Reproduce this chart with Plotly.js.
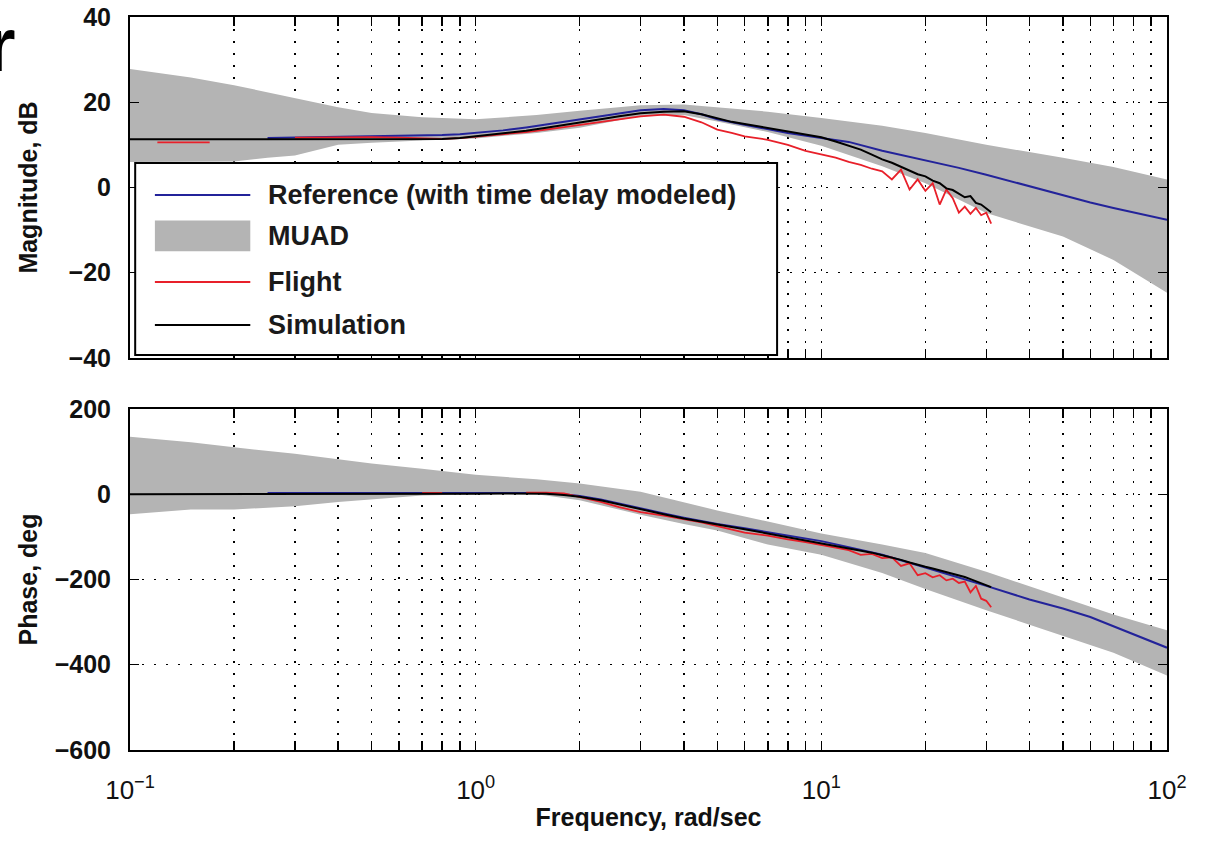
<!DOCTYPE html>
<html><head><meta charset="utf-8">
<script src="https://cdn.plot.ly/plotly-3.0.1.min.js"></script>
<style>html,body{margin:0;padding:0;background:#fff}#chart{width:1209px;height:843px}</style>
</head><body><div id="chart"></div>
<script>
// ---------- data ----------
const freqSim = [0.1, 0.12, 0.15, 0.17, 0.2, 0.25, 0.3, 0.4, 0.5, 0.6, 0.7, 0.8, 0.9, 1.0, 1.2, 1.4, 1.6, 1.8, 2.0, 2.3, 2.6, 3.0, 3.5, 4.0, 4.5, 5.0, 5.5, 6.0, 7.0, 8.0, 9, 10, 11, 12, 13, 14, 15, 16, 17, 18, 19, 20, 21, 22, 23, 24, 25, 26, 27, 28, 29, 30, 31];
const magSim = [11.3, 11.3, 11.3, 11.3, 11.3, 11.3, 11.3, 11.3, 11.3, 11.3, 11.3, 11.4, 11.6, 12.0, 12.6, 13.3, 14.0, 14.6, 15.2, 16.0, 16.7, 17.4, 17.8, 17.9, 17.2, 16.2, 15.4, 14.9, 14.0, 13.2, 12.5, 11.8, 10.8, 9.8, 8.9, 7.7, 6.6, 5.8, 4.8, 4.0, 3.1, 2.6, 1.6, 1.0, -0.2, -0.6, -1.4, -2.3, -2.0, -3.6, -4.0, -5.0, -5.8];
const magFlight = [null, 10.6, 10.6, 10.6, null, null, 11.7, 11.8, 11.8, 11.7, 11.5, 11.4, 11.6, 11.9, 12.4, 13.0, 13.6, 14.2, 14.7, 15.5, 16.1, 16.7, 17.1, 16.6, 15.3, 13.6, 12.8, 12.0, 11.2, 10.0, 8.6, 7.8, 7.0, 6.0, 5.3, 4.4, 3.8, 1.9, 4.2, -0.5, 1.9, -0.8, 1.0, -4.0, -0.5, -2.5, -5.9, -4.5, -6.2, -4.8, -6.5, -5.9, -8.5];
const phaseSim = [0, 0, 0, 0, 0, 0, 0, 0, 0, 0, 0, 0, 0, 1, 2, 2, 1, -2, -6, -14, -24, -35, -47, -57, -65, -72, -77, -82, -92, -101, -108, -114, -120, -126, -132, -137, -143, -148, -154, -160, -166, -170, -174, -178, -182, -186, -190, -194, -199, -204, -209, -213, -218];
const phaseFlight = [null, null, null, null, null, null, null, null, null, null, 3, 3, null, null, null, 4, 4, 2, -6, -18, -30, -42, -50, -58, -66, -75, -83, -90, -97, -106, -112, -118, -125, -131, -142, -140, -150, -148, -168, -162, -190, -185, -195, -190, -202, -198, -208, -205, -230, -215, -245, -250, -265];

const freqRef = [0.25, 0.3, 0.4, 0.5, 0.6, 0.7, 0.8, 0.9, 1.0, 1.2, 1.4, 1.6, 1.8, 2.0, 2.3, 2.6, 3.0, 3.5, 4.0, 4.5, 5, 6, 7, 8, 10, 12, 15, 20, 25, 30, 40, 50, 60, 70, 80, 100];
const magRef = [11.6, 11.7, 11.8, 11.9, 12.0, 12.1, 12.3, 12.5, 12.8, 13.4, 14.1, 14.8, 15.4, 16.0, 16.8, 17.5, 18.1, 18.4, 18.1, 17.2, 16.0, 14.7, 13.6, 12.8, 11.6, 10.7, 8.6, 6.4, 4.6, 3.0, 0.3, -1.9, -3.5, -4.8, -5.9, -7.6];
const phaseRef = [3, 3, 3, 3, 3, 3, 3, 3, 3, 4, 4, 3, 0, -4, -12, -22, -33, -45, -55, -63, -70, -80, -89, -97, -110, -124, -142, -172, -195, -215, -247, -268, -288, -310, -328, -360];

const freqBand = [0.1, 0.15, 0.2, 0.25, 0.3, 0.4, 0.5, 0.7, 1.0, 1.5, 2.0, 3.0, 4.0, 5.0, 7.0, 10, 15, 20, 30, 50, 70, 100];
const magBandUpper = [27.8, 25.8, 24.0, 22.3, 21.0, 18.8, 17.5, 16.5, 16.0, 17.0, 18.0, 19.3, 19.5, 18.8, 17.8, 16.3, 14.5, 12.8, 10.0, 7.0, 4.8, 1.9];
const magBandLower = [6.0, 6.0, 6.1, 7.0, 7.5, 10.0, 10.5, 11.0, 11.5, 12.8, 14.0, 16.8, 17.0, 15.5, 13.0, 9.8, 5.0, 1.0, -6.0, -11.5, -17.0, -24.7];
const phaseBandUpper = [135, 122, 110, 102, 95, 82, 72, 60, 46, 35, 25, 6, -18, -38, -64, -92, -118, -138, -182, -242, -282, -319];
const phaseBandLower = [-47, -36, -36, -32, -28, -18, -12, -3, 0, 0, -14, -48, -70, -85, -118, -142, -185, -222, -272, -332, -372, -425];

const xTickVals = [0.1, 1, 10, 100];
const xTickText = ['10<sup>\u22121</sup>', '10<sup>0</sup>', '10<sup>1</sup>', '10<sup>2</sup>'];
const xMinorVals = [0.2, 0.3, 0.4, 0.5, 0.6, 0.7, 0.8, 0.9, 2, 3, 4, 5, 6, 7, 8, 9, 20, 30, 40, 50, 60, 70, 80, 90];
const magTickVals = [-40, -20, 0, 20, 40];
const phaseTickVals = [-600, -400, -200, 0, 200];
const legendLabels = ['Reference (with time delay modeled)', 'MUAD', 'Flight', 'Simulation'];

// ---------- styles ----------
const FONT = '"Liberation Sans", Arial, Helvetica, sans-serif';
const BLUE = '#23239a', RED = '#e8202a', BLACK = '#000000', GRAY = '#b4b4b4';
const DOTS = '2px,10px';

const traces = [];
function addPanel(xa, ya, bandUp, bandLo, ref, flight, sim) {
  traces.push({x: freqBand, y: bandLo, xaxis: xa, yaxis: ya, mode: 'lines', line: {width: 0, color: GRAY}, hoverinfo: 'skip', showlegend: false});
  traces.push({x: freqBand, y: bandUp, xaxis: xa, yaxis: ya, mode: 'lines', fill: 'tonexty', fillcolor: GRAY, line: {width: 0, color: GRAY}, name: legendLabels[1], showlegend: false});
  traces.push({x: freqRef, y: ref, xaxis: xa, yaxis: ya, mode: 'lines', line: {color: BLUE, width: 2}, name: legendLabels[0], showlegend: false});
  traces.push({x: freqSim, y: flight, xaxis: xa, yaxis: ya, mode: 'lines', line: {color: RED, width: 1.8}, connectgaps: false, name: legendLabels[2], showlegend: false});
  traces.push({x: freqSim, y: sim, xaxis: xa, yaxis: ya, mode: 'lines', line: {color: BLACK, width: 2}, name: legendLabels[3], showlegend: false});
}
addPanel('x', 'y', magBandUpper, magBandLower, magRef, magFlight, magSim);
addPanel('x2', 'y2', phaseBandUpper, phaseBandLower, phaseRef, phaseFlight, phaseSim);

function xAxis(showLabels, anchor) {
  return {
    type: 'log', range: [-1, 2], anchor: anchor,
    tickmode: 'array', tickvals: xTickVals, ticktext: xTickText,
    showticklabels: showLabels,
    ticks: 'inside', ticklen: 9, tickwidth: 1.5, tickcolor: BLACK,
    showline: true, linecolor: BLACK, linewidth: 2, mirror: 'allticks',
    showgrid: true, gridcolor: BLACK, gridwidth: 1.5, griddash: DOTS,
    zeroline: false,
    tickfont: {family: FONT, size: 26, color: '#111'},
    ticklabelstandoff: 16,
    minor: {tickmode: 'array', tickvals: xMinorVals, ticks: 'inside', ticklen: 9, tickwidth: 1.5, tickcolor: BLACK,
            showgrid: true, gridcolor: BLACK, gridwidth: 1.5, griddash: DOTS}
  };
}
function yAxis(range, vals, domain, anchor, title, standoff) {
  return {
    range: range, domain: domain, anchor: anchor,
    tickmode: 'array', tickvals: vals,
    ticks: 'inside', ticklen: 9, tickwidth: 1.5, tickcolor: BLACK,
    showline: true, linecolor: BLACK, linewidth: 2, mirror: 'allticks',
    showgrid: true, gridcolor: BLACK, gridwidth: 1.5, griddash: DOTS,
    zeroline: false,
    tickfont: {family: FONT, size: 25, color: '#111', weight: 'bold'},
    ticklabelstandoff: 12,
    title: {text: title, font: {family: FONT, size: 25, color: '#111', weight: 'bold'}, standoff: standoff}
  };
}

const xa1 = xAxis(false, 'y');
const xa2 = xAxis(true, 'y2');
xa2.matches = 'x';
xa2.title = {text: 'Frequency, rad/sec', font: {family: FONT, size: 25, color: '#111', weight: 'bold'}, standoff: 4};

// legend drawn inside the magnitude panel
const LX0 = 0.005, LX1 = 0.624, LY0 = 0.009, LY1 = 0.572;
const symX0 = 0.024, symX1 = 0.116, textX = 0.131;
const rowY = [0.478, 0.358, 0.223, 0.097];
const shapes = [
  {type: 'rect', xref: 'x domain', yref: 'y domain', x0: LX0, x1: LX1, y0: LY0, y1: LY1, fillcolor: '#ffffff', line: {color: BLACK, width: 2}, layer: 'above'},
  {type: 'line', xref: 'x domain', yref: 'y domain', x0: symX0, x1: symX1, y0: rowY[0], y1: rowY[0], line: {color: BLUE, width: 2}, layer: 'above'},
  {type: 'rect', xref: 'x domain', yref: 'y domain', x0: symX0, x1: symX1, y0: rowY[1] - 0.045, y1: rowY[1] + 0.045, fillcolor: GRAY, line: {width: 0}, layer: 'above'},
  {type: 'line', xref: 'x domain', yref: 'y domain', x0: symX0, x1: symX1, y0: rowY[2], y1: rowY[2], line: {color: RED, width: 2}, layer: 'above'},
  {type: 'line', xref: 'x domain', yref: 'y domain', x0: symX0, x1: symX1, y0: rowY[3], y1: rowY[3], line: {color: BLACK, width: 2}, layer: 'above'}
];
const annotations = legendLabels.map((t, i) => ({
  text: t, xref: 'x domain', yref: 'y domain', x: textX, y: rowY[i], xanchor: 'left', yanchor: 'middle',
  showarrow: false, font: {family: FONT, size: 27, color: '#1a1a1a', weight: 'bold'}
}));
// stray letter from the neighbouring page, top-left (cut off by the edge, as in the reference)
annotations.push({text: 'r', xref: 'paper', yref: 'paper', x: -0.108, y: 0.962, xanchor: 'right', yanchor: 'middle',
  showarrow: false, font: {family: FONT, size: 76, color: '#000', weight: 'bold'}});

const layout = {
  width: 1209, height: 843,
  margin: {l: 130, r: 42, t: 17, b: 93},
  paper_bgcolor: '#ffffff', plot_bgcolor: '#ffffff',
  showlegend: false,
  xaxis: xa1,
  yaxis: yAxis([-40, 40], magTickVals, [0.5348, 1], 'x', 'Magnitude, dB', 24),
  xaxis2: xa2,
  yaxis2: yAxis([-600, 200], phaseTickVals, [0, 0.4652], 'x2', 'Phase, deg', 10),
  shapes: shapes,
  annotations: annotations,
  font: {family: FONT}
};

Plotly.newPlot('chart', traces, layout, {staticPlot: true, displayModeBar: false});
</script>
</body></html>
